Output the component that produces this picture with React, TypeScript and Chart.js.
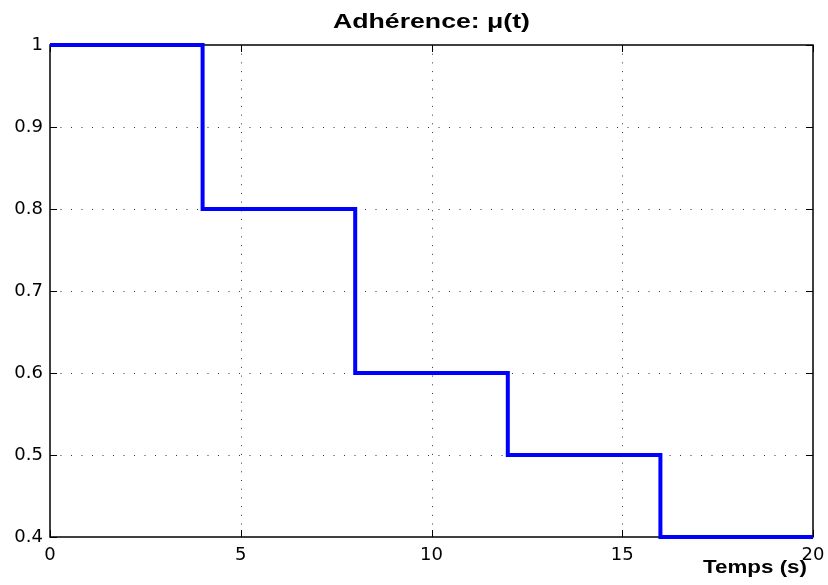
import { useEffect, useRef } from "react";
import { Chart, registerables } from "chart.js";

Chart.register(...registerables);

const times = [0, 4, 8, 12, 16, 20];
const mu = [1, 0.8, 0.6, 0.5, 0.4, 0.4];
const xTicks = [0, 5, 10, 15, 20];
const yTicks = [0.4, 0.5, 0.6, 0.7, 0.8, 0.9, 1];
const titleText = "Adhérence: μ(t)";
const xLabelText = "Temps (s)";

const framePlugin = {
  id: "matlabFrame",
  beforeDatasetsDraw(chart: any) {
    const { ctx, chartArea: a, scales } = chart;
    const x = scales.x;
    const y = scales.y;
    ctx.save();
    ctx.strokeStyle = "#333";
    ctx.lineWidth = 1;
    // dotted grid
    ctx.setLineDash([1, 7.7]);
    xTicks.forEach((v) => {
      const px = Math.round(x.getPixelForValue(v)) + 0.5;
      if (px <= a.left + 1 || px >= a.right - 1) return;
      ctx.beginPath();
      ctx.moveTo(px, a.top);
      ctx.lineTo(px, a.bottom);
      ctx.stroke();
    });
    ctx.setLineDash([1, 9.5]);
    yTicks.forEach((v) => {
      const py = Math.round(y.getPixelForValue(v)) + 0.5;
      if (py <= a.top + 1 || py >= a.bottom - 1) return;
      ctx.beginPath();
      ctx.moveTo(a.left, py);
      ctx.lineTo(a.right, py);
      ctx.stroke();
    });
    // frame
    ctx.setLineDash([]);
    ctx.strokeStyle = "#000";
    ctx.lineWidth = 1.5;
    ctx.strokeRect(a.left, a.top, a.right - a.left, a.bottom - a.top);
    // inward ticks
    ctx.lineWidth = 1;
    const tl = 7;
    xTicks.forEach((v) => {
      const px = Math.round(x.getPixelForValue(v)) + 0.5;
      ctx.beginPath();
      ctx.moveTo(px, a.bottom);
      ctx.lineTo(px, a.bottom - tl);
      ctx.moveTo(px, a.top);
      ctx.lineTo(px, a.top + tl);
      ctx.stroke();
    });
    yTicks.forEach((v) => {
      const py = Math.round(y.getPixelForValue(v)) + 0.5;
      ctx.beginPath();
      ctx.moveTo(a.left, py);
      ctx.lineTo(a.left + tl, py);
      ctx.moveTo(a.right, py);
      ctx.lineTo(a.right - tl, py);
      ctx.stroke();
    });
    ctx.restore();
  },
  afterDraw(chart: any) {
    const { ctx, chartArea: a } = chart;
    ctx.save();
    ctx.fillStyle = "#000";
    // title
    ctx.font = "bold 20px 'Liberation Sans', Arial, sans-serif";
    ctx.textAlign = "center";
    ctx.textBaseline = "alphabetic";
    let w = ctx.measureText(titleText).width;
    let sx = 197 / w;
    ctx.save();
    ctx.translate((a.left + a.right) / 2, 28);
    ctx.scale(sx, 1);
    ctx.fillText(titleText, 0, 0);
    ctx.restore();
    // x label
    ctx.font = "bold 19px 'Liberation Sans', Arial, sans-serif";
    ctx.textAlign = "right";
    w = ctx.measureText(xLabelText).width;
    sx = 104 / w;
    ctx.save();
    ctx.translate(a.right - 6, 573);
    ctx.scale(sx, 1);
    ctx.fillText(xLabelText, 0, 0);
    ctx.restore();
    ctx.restore();
  },
};

export default function App() {
  const ref = useRef<HTMLCanvasElement | null>(null);

  useEffect(() => {
    if (!ref.current) return;
    const tickFont = { family: "'DejaVu Sans', sans-serif", size: 18 };
    const chart = new Chart(ref.current, {
      type: "line",
      data: {
        datasets: [
          {
            data: times.map((t, i) => ({ x: t, y: mu[i] })),
            stepped: "before",
            borderColor: "#0000ff",
            borderWidth: 4,
            pointRadius: 0,
            fill: false,
            tension: 0,
            clip: false as any,
            borderCapStyle: "butt",
            borderJoinStyle: "miter",
          },
        ],
      },
      options: {
        responsive: false,
        animation: false,
        events: [],
        layout: { padding: { left: 0, right: 15, top: 45, bottom: 0 } },
        plugins: {
          legend: { display: false },
          title: { display: false },
          tooltip: { enabled: false },
        },
        scales: {
          x: {
            type: "linear",
            min: 0,
            max: 20,
            afterBuildTicks: (s: any) => {
              s.ticks = xTicks.map((v) => ({ value: v }));
            },
            afterFit: (s: any) => {
              s.height = 48;
              s.paddingLeft = 0;
              s.paddingRight = 0;
            },
            ticks: {
              color: "#000",
              font: tickFont,
              padding: 8,
              maxRotation: 0,
              autoSkip: false,
              callback: (v: any) => String(v),
            },
            grid: { display: false, drawTicks: false },
            border: { display: false },
          },
          y: {
            type: "linear",
            min: 0.4,
            max: 1,
            afterBuildTicks: (s: any) => {
              s.ticks = yTicks.map((v) => ({ value: v }));
            },
            afterFit: (s: any) => {
              s.width = 50;
              s.paddingTop = 0;
              s.paddingBottom = 0;
            },
            ticks: {
              color: "#000",
              font: tickFont,
              padding: 7,
              autoSkip: false,
              callback: (v: any) => String(Math.round(v * 10) / 10),
            },
            grid: { display: false, drawTicks: false },
            border: { display: false },
          },
        },
      },
      plugins: [framePlugin],
    });
    return () => chart.destroy();
  }, []);

  return (
    <div style={{ position: "fixed", left: 0, top: 0, width: 828, height: 585, background: "#fff" }}>
      <canvas ref={ref} width={828} height={585} style={{ display: "block" }} />
    </div>
  );
}
